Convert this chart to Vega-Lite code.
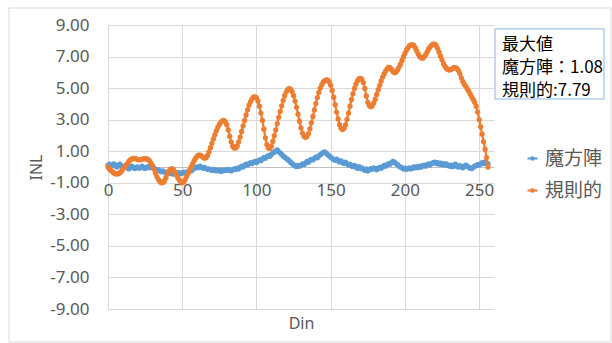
{
"$schema": "https://vega.github.io/schema/vega-lite/v6.json",
"autosize": {"type": "none"},
"width": 386, "height": 284,
"padding": {"left": 108, "top": 25, "right": 118, "bottom": 34},
"background": "white",
"config": {"view": {"stroke": null}, "font": "'Noto Sans', 'Noto Sans CJK JP', sans-serif"},
"datasets": {
"main": [
{"d":0,"魔方陣":0.10,"規則的":0.00},{"d":1,"魔方陣":0.18,"規則的":-0.12},{"d":2,"魔方陣":0.05,"規則的":-0.22},{"d":3,"魔方陣":0.12,"規則的":-0.30},{"d":4,"魔方陣":0.20,"規則的":-0.38},
{"d":5,"魔方陣":0.08,"規則的":-0.43},{"d":6,"魔方陣":0.00,"規則的":-0.45},{"d":7,"魔方陣":0.10,"規則的":-0.42},{"d":8,"魔方陣":0.18,"規則的":-0.36},{"d":9,"魔方陣":0.05,"規則的":-0.28},
{"d":10,"魔方陣":-0.05,"規則的":-0.15},{"d":11,"魔方陣":0.02,"規則的":-0.02},{"d":12,"魔方陣":0.10,"規則的":0.10},{"d":13,"魔方陣":0.00,"規則的":0.22},{"d":14,"魔方陣":-0.12,"規則的":0.35},
{"d":15,"魔方陣":-0.05,"規則的":0.45},{"d":16,"魔方陣":0.05,"規則的":0.50},{"d":17,"魔方陣":-0.02,"規則的":0.54},{"d":18,"魔方陣":-0.10,"規則的":0.55},{"d":19,"魔方陣":-0.03,"規則的":0.52},
{"d":20,"魔方陣":0.00,"規則的":0.47},{"d":21,"魔方陣":-0.08,"規則的":0.45},{"d":22,"魔方陣":-0.02,"規則的":0.47},{"d":23,"魔方陣":0.05,"規則的":0.50},{"d":24,"魔方陣":-0.04,"規則的":0.52},
{"d":25,"魔方陣":-0.10,"規則的":0.53},{"d":26,"魔方陣":-0.02,"規則的":0.52},{"d":27,"魔方陣":0.03,"規則的":0.48},{"d":28,"魔方陣":-0.05,"規則的":0.38},{"d":29,"魔方陣":-0.02,"規則的":0.25},
{"d":30,"魔方陣":0.02,"規則的":0.08},{"d":31,"魔方陣":-0.08,"規則的":-0.15},{"d":32,"魔方陣":-0.15,"規則的":-0.40},{"d":33,"魔方陣":-0.22,"規則的":-0.62},{"d":34,"魔方陣":-0.18,"規則的":-0.80},
{"d":35,"魔方陣":-0.26,"規則的":-0.93},{"d":36,"魔方陣":-0.30,"規則的":-1.00},{"d":37,"魔方陣":-0.25,"規則的":-0.98},{"d":38,"魔方陣":-0.32,"規則的":-0.88},{"d":39,"魔方陣":-0.38,"規則的":-0.68},
{"d":40,"魔方陣":-0.33,"規則的":-0.45},{"d":41,"魔方陣":-0.40,"規則的":-0.27},{"d":42,"魔方陣":-0.36,"規則的":-0.15},{"d":43,"魔方陣":-0.42,"規則的":-0.10},{"d":44,"魔方陣":-0.45,"規則的":-0.17},
{"d":45,"魔方陣":-0.40,"規則的":-0.30},{"d":46,"魔方陣":-0.44,"規則的":-0.48},{"d":47,"魔方陣":-0.38,"規則的":-0.66},{"d":48,"魔方陣":-0.35,"規則的":-0.82},{"d":49,"魔方陣":-0.42,"規則的":-0.95},
{"d":50,"魔方陣":-0.38,"規則的":-1.00},{"d":51,"魔方陣":-0.33,"規則的":-0.95},{"d":52,"魔方陣":-0.40,"規則的":-0.80},{"d":53,"魔方陣":-0.35,"規則的":-0.60},{"d":54,"魔方陣":-0.28,"規則的":-0.40},
{"d":55,"魔方陣":-0.22,"規則的":-0.20},{"d":56,"魔方陣":-0.25,"規則的":0.00},{"d":57,"魔方陣":-0.15,"規則的":0.20},{"d":58,"魔方陣":-0.10,"規則的":0.40},{"d":59,"魔方陣":-0.05,"規則的":0.55},
{"d":60,"魔方陣":0.00,"規則的":0.68},{"d":61,"魔方陣":-0.04,"規則的":0.75},{"d":62,"魔方陣":0.05,"規則的":0.75},{"d":63,"魔方陣":-0.02,"規則的":0.70},{"d":64,"魔方陣":-0.08,"規則的":0.62},
{"d":65,"魔方陣":-0.03,"規則的":0.56},{"d":66,"魔方陣":-0.10,"規則的":0.58},{"d":67,"魔方陣":-0.15,"規則的":0.72},{"d":68,"魔方陣":-0.12,"規則的":0.95},{"d":69,"魔方陣":-0.18,"規則的":1.22},
{"d":70,"魔方陣":-0.22,"規則的":1.50},{"d":71,"魔方陣":-0.15,"規則的":1.78},{"d":72,"魔方陣":-0.20,"規則的":2.05},{"d":73,"魔方陣":-0.25,"規則的":2.30},{"d":74,"魔方陣":-0.18,"規則的":2.52},
{"d":75,"魔方陣":-0.22,"規則的":2.70},{"d":76,"魔方陣":-0.28,"規則的":2.84},{"d":77,"魔方陣":-0.20,"規則的":2.93},{"d":78,"魔方陣":-0.24,"規則的":2.95},{"d":79,"魔方陣":-0.18,"規則的":2.88},
{"d":80,"魔方陣":-0.22,"規則的":2.68},{"d":81,"魔方陣":-0.15,"規則的":2.35},{"d":82,"魔方陣":-0.20,"規則的":1.95},{"d":83,"魔方陣":-0.25,"規則的":1.58},{"d":84,"魔方陣":-0.18,"規則的":1.32},
{"d":85,"魔方陣":-0.12,"規則的":1.20},{"d":86,"魔方陣":-0.16,"規則的":1.20},{"d":87,"魔方陣":-0.08,"規則的":1.33},{"d":88,"魔方陣":-0.12,"規則的":1.58},{"d":89,"魔方陣":-0.02,"規則的":1.90},
{"d":90,"魔方陣":0.05,"規則的":2.25},{"d":91,"魔方陣":0.00,"規則的":2.60},{"d":92,"魔方陣":0.10,"規則的":2.95},{"d":93,"魔方陣":0.18,"規則的":3.30},{"d":94,"魔方陣":0.12,"規則的":3.62},
{"d":95,"魔方陣":0.22,"規則的":3.92},{"d":96,"魔方陣":0.28,"規則的":4.15},{"d":97,"魔方陣":0.22,"規則的":4.32},{"d":98,"魔方陣":0.30,"規則的":4.42},{"d":99,"魔方陣":0.35,"規則的":4.45},
{"d":100,"魔方陣":0.28,"規則的":4.38},{"d":101,"魔方陣":0.38,"規則的":4.18},{"d":102,"魔方陣":0.45,"規則的":3.85},{"d":103,"魔方陣":0.40,"規則的":3.42},{"d":104,"魔方陣":0.52,"規則的":2.95},
{"d":105,"魔方陣":0.60,"規則的":2.40},{"d":106,"魔方陣":0.55,"規則的":1.85},{"d":107,"魔方陣":0.65,"規則的":1.42},{"d":108,"魔方陣":0.72,"規則的":1.20},{"d":109,"魔方陣":0.68,"規則的":1.18},
{"d":110,"魔方陣":0.80,"規則的":1.32},{"d":111,"魔方陣":0.88,"規則的":1.62},{"d":112,"魔方陣":0.95,"規則的":1.98},{"d":113,"魔方陣":1.02,"規則的":2.35},{"d":114,"魔方陣":1.08,"規則的":2.75},
{"d":115,"魔方陣":0.98,"規則的":3.15},{"d":116,"魔方陣":0.88,"規則的":3.52},{"d":117,"魔方陣":0.80,"規則的":3.88},{"d":118,"魔方陣":0.70,"規則的":4.22},{"d":119,"魔方陣":0.62,"規則的":4.52},
{"d":120,"魔方陣":0.55,"規則的":4.75},{"d":121,"魔方陣":0.48,"規則的":4.90},{"d":122,"魔方陣":0.40,"規則的":4.97},{"d":123,"魔方陣":0.30,"規則的":4.93},{"d":124,"魔方陣":0.22,"規則的":4.78},
{"d":125,"魔方陣":0.15,"規則的":4.52},{"d":126,"魔方陣":0.08,"規則的":4.18},{"d":127,"魔方陣":0.02,"規則的":3.78},{"d":128,"魔方陣":0.10,"規則的":3.35},{"d":129,"魔方陣":0.05,"規則的":2.90},
{"d":130,"魔方陣":0.12,"規則的":2.48},{"d":131,"魔方陣":0.20,"規則的":2.15},{"d":132,"魔方陣":0.15,"規則的":1.95},{"d":133,"魔方陣":0.25,"規則的":1.88},{"d":134,"魔方陣":0.35,"規則的":1.93},
{"d":135,"魔方陣":0.30,"規則的":2.12},{"d":136,"魔方陣":0.42,"規則的":2.42},{"d":137,"魔方陣":0.48,"規則的":2.80},{"d":138,"魔方陣":0.45,"規則的":3.20},{"d":139,"魔方陣":0.55,"規則的":3.62},
{"d":140,"魔方陣":0.62,"規則的":4.02},{"d":141,"魔方陣":0.58,"規則的":4.40},{"d":142,"魔方陣":0.70,"規則的":4.72},{"d":143,"魔方陣":0.78,"規則的":5.00},{"d":144,"魔方陣":0.85,"規則的":5.22},
{"d":145,"魔方陣":0.92,"規則的":5.38},{"d":146,"魔方陣":0.96,"規則的":5.47},{"d":147,"魔方陣":0.88,"規則的":5.52},{"d":148,"魔方陣":0.78,"規則的":5.50},{"d":149,"魔方陣":0.70,"規則的":5.40},
{"d":150,"魔方陣":0.62,"規則的":5.18},{"d":151,"魔方陣":0.55,"規則的":4.85},{"d":152,"魔方陣":0.48,"規則的":4.42},{"d":153,"魔方陣":0.42,"規則的":3.95},{"d":154,"魔方陣":0.50,"規則的":3.48},
{"d":155,"魔方陣":0.40,"規則的":3.05},{"d":156,"魔方陣":0.32,"規則的":2.68},{"d":157,"魔方陣":0.38,"規則的":2.45},{"d":158,"魔方陣":0.28,"規則的":2.38},{"d":159,"魔方陣":0.22,"規則的":2.45},
{"d":160,"魔方陣":0.30,"規則的":2.68},{"d":161,"魔方陣":0.20,"規則的":3.02},{"d":162,"魔方陣":0.12,"規則的":3.42},{"d":163,"魔方陣":0.18,"規則的":3.85},{"d":164,"魔方陣":0.08,"規則的":4.28},
{"d":165,"魔方陣":0.02,"規則的":4.65},{"d":166,"魔方陣":0.10,"規則的":4.98},{"d":167,"魔方陣":0.00,"規則的":5.25},{"d":168,"魔方陣":-0.08,"規則的":5.45},{"d":169,"魔方陣":0.02,"規則的":5.58},
{"d":170,"魔方陣":-0.10,"規則的":5.62},{"d":171,"魔方陣":-0.05,"規則的":5.55},{"d":172,"魔方陣":-0.15,"規則的":5.35},{"d":173,"魔方陣":-0.22,"規則的":4.98},{"d":174,"魔方陣":-0.12,"規則的":4.50},
{"d":175,"魔方陣":-0.25,"規則的":4.10},{"d":176,"魔方陣":-0.18,"規則的":3.90},{"d":177,"魔方陣":-0.10,"規則的":3.82},{"d":178,"魔方陣":-0.15,"規則的":3.88},{"d":179,"魔方陣":-0.05,"規則的":4.05},
{"d":180,"魔方陣":-0.10,"規則的":4.30},{"d":181,"魔方陣":-0.18,"規則的":4.60},{"d":182,"魔方陣":-0.08,"規則的":4.90},{"d":183,"魔方陣":-0.02,"規則的":5.18},{"d":184,"魔方陣":-0.08,"規則的":5.45},
{"d":185,"魔方陣":0.02,"規則的":5.70},{"d":186,"魔方陣":0.10,"規則的":5.90},{"d":187,"魔方陣":0.05,"規則的":6.08},{"d":188,"魔方陣":0.15,"規則的":6.22},{"d":189,"魔方陣":0.22,"規則的":6.32},
{"d":190,"魔方陣":0.18,"規則的":6.30},{"d":191,"魔方陣":0.28,"規則的":6.18},{"d":192,"魔方陣":0.35,"規則的":6.05},{"d":193,"魔方陣":0.30,"規則的":5.98},{"d":194,"魔方陣":0.22,"規則的":6.02},
{"d":195,"魔方陣":0.15,"規則的":6.15},{"d":196,"魔方陣":0.05,"規則的":6.32},{"d":197,"魔方陣":0.00,"規則的":6.52},{"d":198,"魔方陣":-0.05,"規則的":6.75},{"d":199,"魔方陣":-0.12,"規則的":6.98},
{"d":200,"魔方陣":-0.08,"規則的":7.20},{"d":201,"魔方陣":-0.15,"規則的":7.40},{"d":202,"魔方陣":-0.10,"規則的":7.55},{"d":203,"魔方陣":-0.05,"規則的":7.67},{"d":204,"魔方陣":-0.12,"規則的":7.74},
{"d":205,"魔方陣":-0.08,"規則的":7.76},{"d":206,"魔方陣":0.00,"規則的":7.70},{"d":207,"魔方陣":-0.05,"規則的":7.55},{"d":208,"魔方陣":0.02,"規則的":7.35},{"d":209,"魔方陣":-0.04,"規則的":7.15},
{"d":210,"魔方陣":0.05,"規則的":7.00},{"d":211,"魔方陣":0.00,"規則的":6.92},{"d":212,"魔方陣":0.08,"規則的":6.90},{"d":213,"魔方陣":0.12,"規則的":6.98},{"d":214,"魔方陣":0.05,"規則的":7.12},
{"d":215,"魔方陣":0.15,"規則的":7.30},{"d":216,"魔方陣":0.20,"規則的":7.48},{"d":217,"魔方陣":0.12,"規則的":7.62},{"d":218,"魔方陣":0.22,"規則的":7.72},{"d":219,"魔方陣":0.28,"規則的":7.78},
{"d":220,"魔方陣":0.30,"規則的":7.79},{"d":221,"魔方陣":0.22,"規則的":7.70},{"d":222,"魔方陣":0.28,"規則的":7.52},{"d":223,"魔方陣":0.18,"規則的":7.28},{"d":224,"魔方陣":0.25,"規則的":7.02},
{"d":225,"魔方陣":0.15,"規則的":6.78},{"d":226,"魔方陣":0.22,"規則的":6.55},{"d":227,"魔方陣":0.12,"規則的":6.38},{"d":228,"魔方陣":0.20,"規則的":6.25},{"d":229,"魔方陣":0.10,"規則的":6.18},
{"d":230,"魔方陣":0.05,"規則的":6.15},{"d":231,"魔方陣":0.12,"規則的":6.18},{"d":232,"魔方陣":0.02,"規則的":6.24},{"d":233,"魔方陣":0.10,"規則的":6.30},{"d":234,"魔方陣":0.18,"規則的":6.30},
{"d":235,"魔方陣":0.05,"規則的":6.25},{"d":236,"魔方陣":0.00,"規則的":6.12},{"d":237,"魔方陣":0.08,"規則的":5.92},{"d":238,"魔方陣":0.02,"規則的":5.65},{"d":239,"魔方陣":-0.05,"規則的":5.42},
{"d":240,"魔方陣":0.05,"規則的":5.25},{"d":241,"魔方陣":0.12,"規則的":5.12},{"d":242,"魔方陣":0.05,"規則的":4.95},{"d":243,"魔方陣":-0.02,"規則的":4.80},{"d":244,"魔方陣":-0.08,"規則的":4.62},
{"d":245,"魔方陣":-0.10,"規則的":4.45},{"d":246,"魔方陣":-0.02,"規則的":4.28},{"d":247,"魔方陣":0.05,"規則的":4.10},{"d":248,"魔方陣":0.10,"規則的":3.85},{"d":249,"魔方陣":0.15,"規則的":3.48},
{"d":250,"魔方陣":0.12,"規則的":3.00},{"d":251,"魔方陣":0.20,"規則的":2.55},{"d":252,"魔方陣":0.28,"規則的":2.08},{"d":253,"魔方陣":0.22,"規則的":1.60},{"d":254,"魔方陣":0.32,"規則的":1.12},
{"d":255,"魔方陣":0.25,"規則的":0.60},{"d":256,"魔方陣":0.20,"規則的":0.00}
],
"frame": [{"d":-66.7,"d2":338.8,"v":10.08,"v2":-11.09}],
"box": [{"d":260.7,"d2":334.1,"v":8.75,"v2":4.31}],
"txt": [{"d":265.4,"v":7.73,"t":"最大値"},{"d":265.4,"v":6.27,"t":"魔方陣：1.08"},{"d":265.4,"v":4.8,"t":"規則的:7.79"}]
},
"layer": [
{
"data": {"name": "frame"},
"mark": {"type": "rect", "fill": null, "stroke": "#D9D9D9", "strokeWidth": 1},
"encoding": {
"x": {"field": "d", "type": "quantitative", "scale": {"domain": [0, 260], "nice": false, "zero": false}},
"x2": {"field": "d2"},
"y": {"field": "v", "type": "quantitative", "scale": {"domain": [-9, 9], "nice": false, "zero": false}},
"y2": {"field": "v2"}
}
},
{
"data": {"name": "main"},
"transform": [{"fold": ["魔方陣", "規則的"], "as": ["s", "v"]}, {"filter": {"field": "s", "equal": "魔方陣"}}],
"mark": {"type": "line", "strokeWidth": 2.25, "point": {"filled": true, "size": 28, "opacity": 1}},
"encoding": {
"x": {"field": "d", "type": "quantitative", "scale": {"domain": [0, 260], "nice": false, "zero": false},
"axis": {"values": [0, 50, 100, 150, 200, 250], "tickCount": 30, "labelOverlap": false, "title": "Din", "offset": -142, "ticks": false, "domainColor": "#BFBFBF", "domainWidth": 1, "gridColor": "#D9D9D9", "labelFontSize": 17, "labelColor": "#595959", "labelPadding": 15, "labelFlush": false, "titleFontSize": 16, "titleFontWeight": "normal", "titleColor": "#595959", "titleY": 156, "titleBaseline": "middle"}},
"y": {"field": "v", "type": "quantitative", "scale": {"domain": [-9, 9], "nice": false, "zero": false},
"axis": {"values": [-9, -7, -5, -3, -1, 1, 3, 5, 7, 9], "tickCount": 30, "labelOverlap": false, "labelExpr": "replace(format(datum.value, '.2f'), '\u2212', '-')", "title": "INL", "domain": false, "ticks": false, "gridColor": "#D9D9D9", "labelFontSize": 17, "labelColor": "#595959", "labelPadding": 19, "titleFontSize": 16, "titleFontWeight": "normal", "titleColor": "#595959", "titleX": -72, "titleY": 142, "titleBaseline": "middle"}},
"color": {"field": "s", "type": "nominal", "scale": {"domain": ["魔方陣", "規則的"], "range": ["#5B9BD5", "#ED7D31"]},
"legend": {"orient": "none", "legendX": 415, "legendY": 124, "title": null, "labelFontSize": 19, "labelColor": "#595959", "symbolType": "M-1,0H1M-0.25,0A0.25,0.25,0,1,1,0.25,0A0.25,0.25,0,1,1,-0.25,0Z", "symbolSize": 100, "symbolStrokeWidth": 2, "rowPadding": 12, "labelOffset": 3}}
}
},
{
"data": {"name": "main"},
"transform": [{"fold": ["魔方陣", "規則的"], "as": ["s", "v"]}, {"filter": {"field": "s", "equal": "規則的"}}],
"mark": {"type": "line", "strokeWidth": 2.25, "point": {"filled": true, "size": 28, "opacity": 1}},
"encoding": {
"x": {"field": "d", "type": "quantitative", "scale": {"domain": [0, 260], "nice": false, "zero": false}},
"y": {"field": "v", "type": "quantitative", "scale": {"domain": [-9, 9], "nice": false, "zero": false}},
"color": {"field": "s", "type": "nominal", "scale": {"domain": ["魔方陣", "規則的"], "range": ["#5B9BD5", "#ED7D31"]}}
}
},
{
"data": {"name": "box"},
"mark": {"type": "rect", "fill": "white", "stroke": "#8EB4E3", "strokeWidth": 1},
"encoding": {
"x": {"field": "d", "type": "quantitative", "scale": {"domain": [0, 260], "nice": false, "zero": false}},
"x2": {"field": "d2"},
"y": {"field": "v", "type": "quantitative", "scale": {"domain": [-9, 9], "nice": false, "zero": false}},
"y2": {"field": "v2"}
}
},
{
"data": {"name": "txt"},
"mark": {"type": "text", "align": "left", "baseline": "middle", "fontSize": 17, "color": "#000000", "font": "'Noto Sans CJK JP', sans-serif"},
"encoding": {
"x": {"field": "d", "type": "quantitative", "scale": {"domain": [0, 260], "nice": false, "zero": false}},
"y": {"field": "v", "type": "quantitative", "scale": {"domain": [-9, 9], "nice": false, "zero": false}},
"text": {"field": "t"}
}
}
]
}
